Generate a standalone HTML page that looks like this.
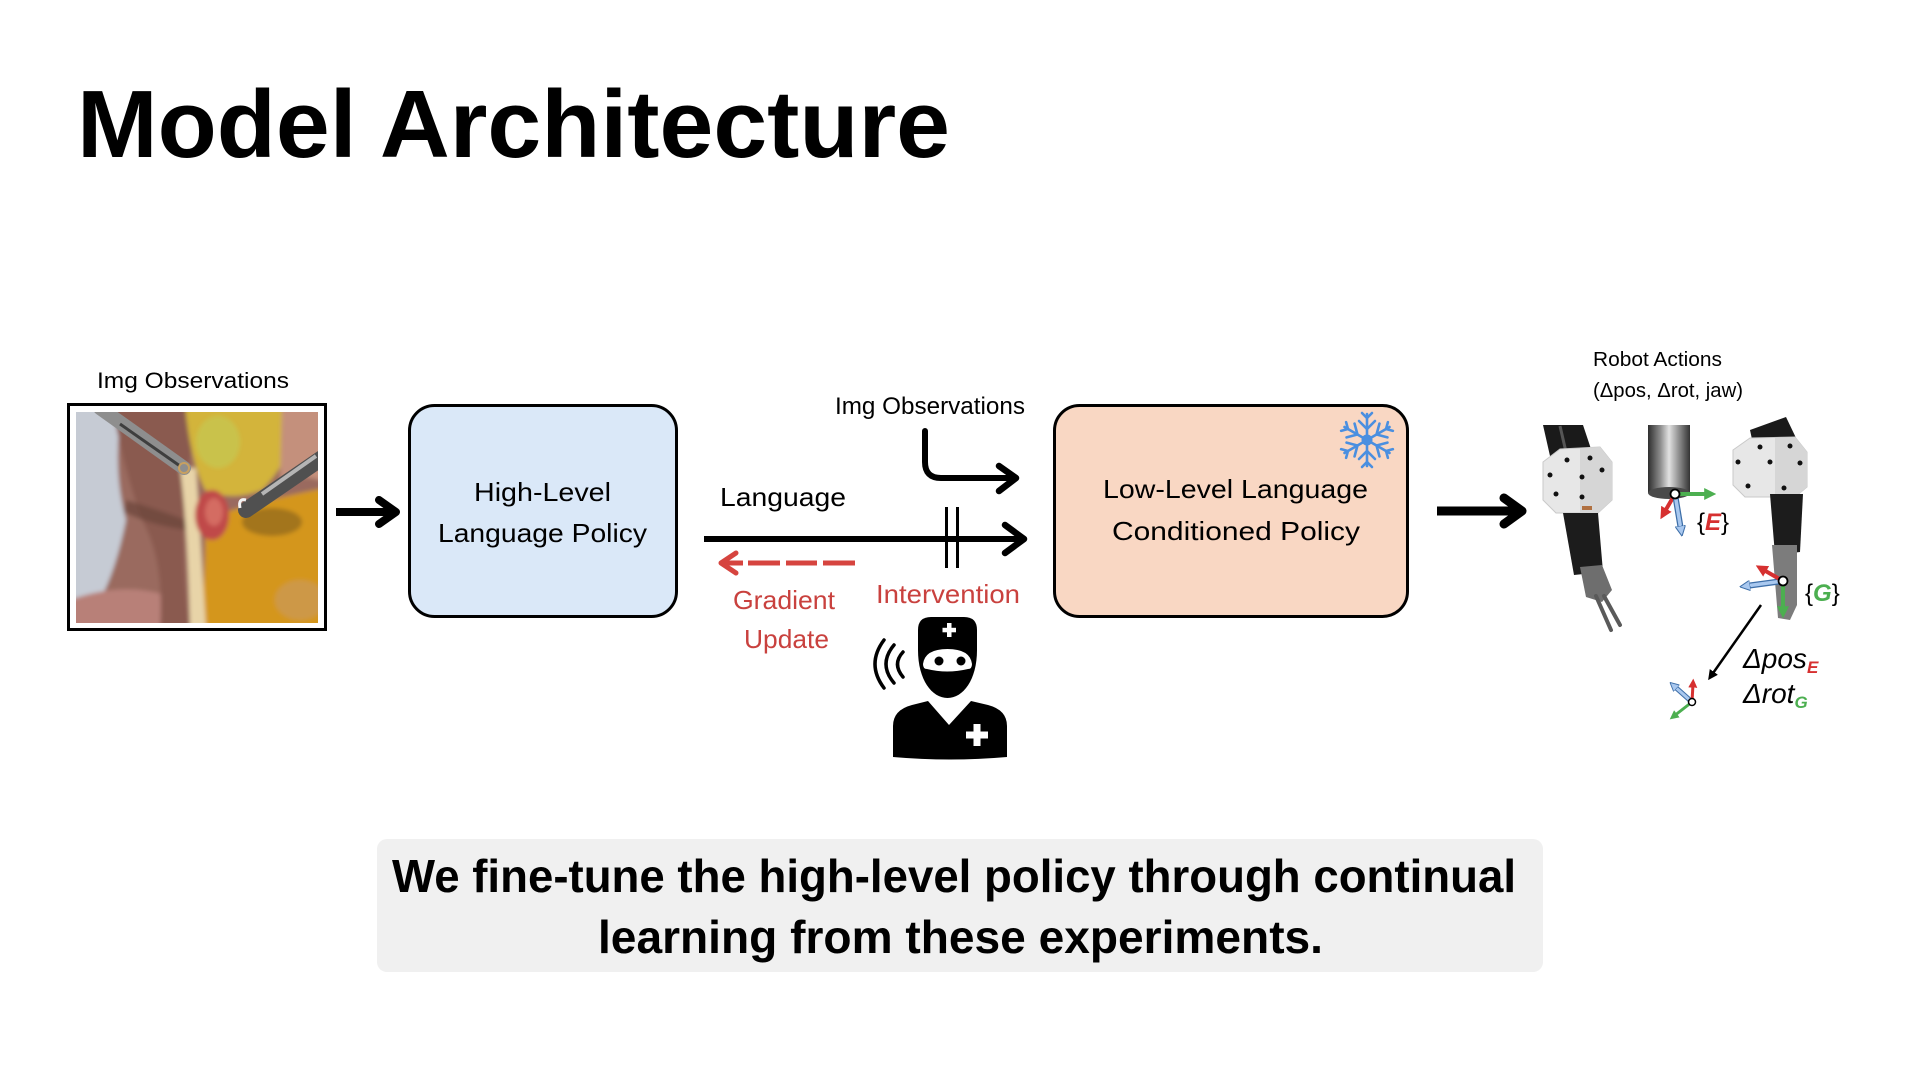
<!DOCTYPE html>
<html>
<head>
<meta charset="utf-8">
<style>
html,body{margin:0;padding:0;background:#fff;}
body{width:1920px;height:1080px;overflow:hidden;}
svg{display:block;}
text{font-family:"Liberation Sans",sans-serif;}
</style>
</head>
<body>
<svg width="1920" height="1080" viewBox="0 0 1920 1080" xmlns="http://www.w3.org/2000/svg">
<defs>
  <clipPath id="ph"><rect x="76" y="412" width="242" height="211"/></clipPath>
  <filter id="soft" x="-5%" y="-5%" width="110%" height="110%"><feGaussianBlur stdDeviation="2.2"/></filter>
  <linearGradient id="tube" x1="0" y1="0" x2="1" y2="0">
    <stop offset="0" stop-color="#2e2e2e"/>
    <stop offset="0.3" stop-color="#8f8f8f"/>
    <stop offset="0.5" stop-color="#e2e2e2"/>
    <stop offset="0.75" stop-color="#8a8a8a"/>
    <stop offset="1" stop-color="#333"/>
  </linearGradient>
  <marker id="mR" viewBox="0 0 10 10" refX="4" refY="5" markerWidth="3" markerHeight="3" orient="auto"><path d="M0,0 L10,5 L0,10 z" fill="#d63030"/></marker>
  <marker id="mG" viewBox="0 0 10 10" refX="4" refY="5" markerWidth="3" markerHeight="3" orient="auto"><path d="M0,0 L10,5 L0,10 z" fill="#4caf50"/></marker>
  <marker id="mB" viewBox="0 0 10 10" refX="4" refY="5" markerWidth="3" markerHeight="3" orient="auto"><path d="M0,0 L10,5 L0,10 z" fill="#a9c8ef" stroke="#3d6ea8" stroke-width="1"/></marker>
  <marker id="mK" viewBox="0 0 10 10" refX="5" refY="5" markerWidth="4" markerHeight="4" orient="auto"><path d="M0,0 L10,5 L0,10 z" fill="#000"/></marker>
</defs>

<!-- Title -->
<text x="77" y="157" font-size="96" font-weight="bold" textLength="873" lengthAdjust="spacingAndGlyphs">Model Architecture</text>

<!-- Left image observations -->
<text x="97" y="388" font-size="22" textLength="192" lengthAdjust="spacingAndGlyphs">Img Observations</text>
<rect x="68.5" y="404.5" width="257" height="225" fill="#fff" stroke="#000" stroke-width="3"/>
<g clip-path="url(#ph)">
 <g filter="url(#soft)">
  <rect x="70" y="405" width="255" height="225" fill="#9a6a5e"/>
  <path d="M70,405 L122,405 Q112,470 126,520 Q116,570 100,600 L70,615 Z" fill="#c6cbd4"/>
  <path d="M70,600 Q120,582 162,594 L176,630 L70,630 Z" fill="#b88078"/>
  <path d="M112,405 L200,405 L186,480 Q180,560 190,630 L160,630 Q165,560 142,520 Q124,470 112,405 Z" fill="#8a5a50"/>
  <path d="M126,500 Q160,510 186,520 L186,530 Q150,525 124,512 Z" fill="#6a443a" opacity="0.7"/>
  <path d="M185,405 L305,405 Q292,460 262,490 Q232,502 205,490 Q190,460 185,405 Z" fill="#d3b43a"/>
  <ellipse cx="218" cy="442" rx="22" ry="26" fill="#c9c24c"/>
  <path d="M282,405 L325,405 L325,482 Q300,472 280,482 Z" fill="#c4907c"/>
  <path d="M205,520 Q242,504 325,488 L325,630 L200,630 Q206,570 205,520 Z" fill="#d4961e"/>
  <ellipse cx="272" cy="522" rx="30" ry="14" fill="#7a5a1e" opacity="0.55"/>
  <ellipse cx="300" cy="600" rx="25" ry="20" fill="#c89a60" opacity="0.6"/>
  <path d="M180,468 Q188,530 190,630 L206,630 Q200,530 196,468 Z" fill="#e8d4a8"/>
  <ellipse cx="212" cy="515" rx="17" ry="25" fill="#c04a48"/>
  <ellipse cx="214" cy="512" rx="9" ry="14" fill="#d46c62"/>
 </g>
  <line x1="100" y1="408" x2="184" y2="468" stroke="#8e8e8e" stroke-width="14" stroke-linecap="round"/>
  <line x1="120" y1="424" x2="180" y2="466" stroke="#3e3e3e" stroke-width="3"/>
  <circle cx="184" cy="468" r="5" fill="none" stroke="#c8a060" stroke-width="2"/>
  <line x1="322" y1="458" x2="246" y2="510" stroke="#505050" stroke-width="16" stroke-linecap="round"/>
  <line x1="316" y1="456" x2="262" y2="494" stroke="#b5b5b5" stroke-width="4"/>
  <path d="M246,500 Q238,498 240,508" fill="none" stroke="#f2f2f2" stroke-width="3"/>
</g>

<!-- arrow 1 -->
<line x1="336" y1="512" x2="394" y2="512" stroke="#000" stroke-width="8"/>
<polyline points="379,500 396,512 379,524" fill="none" stroke="#000" stroke-width="8" stroke-linecap="round" stroke-linejoin="round"/>

<!-- High level box -->
<rect x="409.5" y="405.5" width="267" height="211" rx="25" fill="#dae8f8" stroke="#000" stroke-width="3"/>
<text x="474" y="501" font-size="26" textLength="137" lengthAdjust="spacingAndGlyphs">High-Level</text>
<text x="438" y="542" font-size="26" textLength="209" lengthAdjust="spacingAndGlyphs">Language Policy</text>

<!-- middle connectors -->
<text x="720" y="506" font-size="26" textLength="126" lengthAdjust="spacingAndGlyphs">Language</text>
<text x="835" y="414" font-size="24" textLength="190" lengthAdjust="spacingAndGlyphs">Img Observations</text>
<path d="M925,431 L925,462 Q925,478 941,478 L1014,478" fill="none" stroke="#000" stroke-width="6" stroke-linecap="round"/>
<polyline points="999,466 1016,478 999,491" fill="none" stroke="#000" stroke-width="6.5" stroke-linecap="round" stroke-linejoin="round"/>
<line x1="704" y1="539" x2="1022" y2="539" stroke="#000" stroke-width="6"/>
<polyline points="1005,525 1024,539 1005,553" fill="none" stroke="#000" stroke-width="6.5" stroke-linecap="round" stroke-linejoin="round"/>
<line x1="946.5" y1="507" x2="946.5" y2="568" stroke="#000" stroke-width="3"/>
<line x1="957.5" y1="507" x2="957.5" y2="568" stroke="#000" stroke-width="3"/>

<!-- red dashed -->
<polyline points="736,553 721,563 736,573" fill="none" stroke="#d6443f" stroke-width="5" stroke-linecap="round" stroke-linejoin="round"/>
<line x1="722" y1="563" x2="743" y2="563" stroke="#d6443f" stroke-width="5"/>
<line x1="748" y1="563" x2="780" y2="563" stroke="#d6443f" stroke-width="5"/>
<line x1="786" y1="563" x2="817" y2="563" stroke="#d6443f" stroke-width="5"/>
<line x1="823" y1="563" x2="855" y2="563" stroke="#d6443f" stroke-width="5"/>
<text x="733" y="609" font-size="26" fill="#c9413e" textLength="102" lengthAdjust="spacingAndGlyphs">Gradient</text>
<text x="744" y="648" font-size="26" fill="#c9413e" textLength="85" lengthAdjust="spacingAndGlyphs">Update</text>
<text x="876" y="603" font-size="26" fill="#c9413e" textLength="144" lengthAdjust="spacingAndGlyphs">Intervention</text>

<!-- doctor -->
<g>
  <path d="M884,640 Q866,664 884,688" fill="none" stroke="#000" stroke-width="3.5" stroke-linecap="round"/>
  <path d="M894,645 Q878,664 894,683" fill="none" stroke="#000" stroke-width="3.5" stroke-linecap="round"/>
  <path d="M903,652 Q892,664 903,677" fill="none" stroke="#000" stroke-width="3.5" stroke-linecap="round"/>
  <path d="M918,650 L918,630 Q918,617 931,617 L964,617 Q977,617 977,630 L977,650 C977,680 963,698 947.5,698 C932,698 918,680 918,650 Z" fill="#000"/>
  <path d="M923,664 Q925,649 947.5,649 Q970,649 972,664 Q972,669 968,669 Q947,674 927,669 Q923,669 923,664 Z" fill="#fff"/>
  <circle cx="939" cy="661" r="4.5" fill="#000"/>
  <circle cx="961" cy="661" r="4.5" fill="#000"/>
  <rect x="947" y="623" width="4.5" height="14" fill="#fff"/>
  <rect x="942.5" y="627.8" width="13.5" height="4.5" fill="#fff"/>
  <path d="M893,757 L893,726 Q893,710 912,705 L928,701 L949,725 L971,701 L988,705 Q1007,710 1007,726 L1007,757 Q950,762 893,757 Z" fill="#000"/>
  <rect x="973.5" y="724" width="7" height="22" fill="#fff"/>
  <rect x="966" y="731.5" width="22" height="7" fill="#fff"/>
</g>

<!-- Low level box -->
<rect x="1054.5" y="405.5" width="353" height="211" rx="25" fill="#f9d7c3" stroke="#000" stroke-width="3"/>
<text x="1103" y="498" font-size="26" textLength="265" lengthAdjust="spacingAndGlyphs">Low-Level Language</text>
<text x="1112" y="540" font-size="26" textLength="248" lengthAdjust="spacingAndGlyphs">Conditioned  Policy</text>
<!-- snowflake -->
<g stroke="#4a8fe0" stroke-width="2.6" stroke-linecap="round" fill="none">
  <g><line x1="1367" y1="440" x2="1367" y2="414"/><polyline points="1359,421 1367,429 1375,421"/><polyline points="1362,413 1367,418 1372,413"/></g>
  <g transform="rotate(60 1367 440)"><line x1="1367" y1="440" x2="1367" y2="414"/><polyline points="1359,421 1367,429 1375,421"/><polyline points="1362,413 1367,418 1372,413"/></g>
  <g transform="rotate(120 1367 440)"><line x1="1367" y1="440" x2="1367" y2="414"/><polyline points="1359,421 1367,429 1375,421"/><polyline points="1362,413 1367,418 1372,413"/></g>
  <g transform="rotate(180 1367 440)"><line x1="1367" y1="440" x2="1367" y2="414"/><polyline points="1359,421 1367,429 1375,421"/><polyline points="1362,413 1367,418 1372,413"/></g>
  <g transform="rotate(240 1367 440)"><line x1="1367" y1="440" x2="1367" y2="414"/><polyline points="1359,421 1367,429 1375,421"/><polyline points="1362,413 1367,418 1372,413"/></g>
  <g transform="rotate(300 1367 440)"><line x1="1367" y1="440" x2="1367" y2="414"/><polyline points="1359,421 1367,429 1375,421"/><polyline points="1362,413 1367,418 1372,413"/></g>
</g>
<circle cx="1367" cy="440" r="5.5" fill="#4a8fe0"/>

<!-- arrow to robot -->
<line x1="1437" y1="511" x2="1519" y2="511" stroke="#000" stroke-width="9"/>
<polyline points="1504,498 1522,511 1504,524" fill="none" stroke="#000" stroke-width="9" stroke-linecap="round" stroke-linejoin="round"/>

<!-- Robot actions -->
<text x="1593" y="366" font-size="20" textLength="129" lengthAdjust="spacingAndGlyphs">Robot Actions</text>
<text x="1593" y="397" font-size="20" textLength="150" lengthAdjust="spacingAndGlyphs">(Δpos, Δrot, jaw)</text>

<!-- left instrument -->
<polygon points="1543,425 1583,425 1592,452 1550,456" fill="#1a1a1a"/>
<line x1="1560" y1="426" x2="1566" y2="452" stroke="#555" stroke-width="3"/>
<polygon points="1543,462 1560,449 1600,447 1612,462 1612,500 1598,513 1556,513 1543,500" fill="#e7e7e7" stroke="#c9c9c9" stroke-width="1"/>
<polygon points="1580,448 1600,447 1612,462 1612,500 1598,513 1580,513" fill="#d6d6d6"/>
<g fill="#111"><circle cx="1567" cy="460" r="2.5"/><circle cx="1590" cy="458" r="2.5"/><circle cx="1550" cy="475" r="2.5"/><circle cx="1582" cy="477" r="2.5"/><circle cx="1602" cy="470" r="2.5"/><circle cx="1556" cy="494" r="2.5"/><circle cx="1582" cy="497" r="2.5"/></g>
<polygon points="1563,513 1598,513 1603,572 1574,575" fill="#1c1c1c"/>
<rect x="1582" y="506" width="10" height="4" fill="#b07040"/>
<polygon points="1580,567 1602,565 1612,590 1602,602 1586,597" fill="#6e6e6e"/>
<line x1="1596" y1="596" x2="1611" y2="630" stroke="#5a5a5a" stroke-width="4" stroke-linecap="round"/>
<line x1="1604" y1="596" x2="1620" y2="625" stroke="#5a5a5a" stroke-width="4" stroke-linecap="round"/>

<!-- middle instrument -->
<rect x="1648" y="425" width="42" height="68" fill="url(#tube)"/>
<ellipse cx="1669" cy="493" rx="21" ry="6" fill="#4a4a4a"/>

<!-- right instrument -->
<polygon points="1750,430 1786,417 1797,440 1753,444" fill="#1a1a1a"/>
<polygon points="1733,450 1750,438 1795,437 1807,452 1807,487 1795,497 1745,497 1733,485" fill="#e7e7e7" stroke="#c9c9c9" stroke-width="1"/>
<polygon points="1775,438 1795,437 1807,452 1807,487 1795,497 1775,497" fill="#d6d6d6"/>
<g fill="#111"><circle cx="1760" cy="447" r="2.5"/><circle cx="1790" cy="446" r="2.5"/><circle cx="1738" cy="462" r="2.5"/><circle cx="1770" cy="462" r="2.5"/><circle cx="1800" cy="463" r="2.5"/><circle cx="1748" cy="486" r="2.5"/><circle cx="1784" cy="488" r="2.5"/></g>
<polygon points="1770,494 1803,494 1800,552 1775,555" fill="#1c1c1c"/>
<polygon points="1772,545 1797,545 1797,605 1790,620 1778,618" fill="#7c7c7c"/>

<!-- frame E -->
<line x1="1675" y1="494" x2="1709" y2="494" stroke="#4caf50" stroke-width="4" marker-end="url(#mG)"/>
<line x1="1675" y1="494" x2="1664" y2="513" stroke="#d63030" stroke-width="4" marker-end="url(#mR)"/>
<line x1="1675" y1="494" x2="1681" y2="530" stroke="#3d6ea8" stroke-width="6"/>
<line x1="1675" y1="494" x2="1681" y2="530" stroke="#a9c8ef" stroke-width="3.5" marker-end="url(#mB)"/>
<circle cx="1675" cy="494" r="4.5" fill="#fff" stroke="#000" stroke-width="1.8"/>
<text x="1697" y="530" font-family="Liberation Serif,serif" font-size="24">{<tspan fill="#d63030" font-weight="bold" font-style="italic">E</tspan>}</text>

<!-- frame G -->
<line x1="1783" y1="581" x2="1746" y2="586" stroke="#3d6ea8" stroke-width="6"/>
<line x1="1783" y1="581" x2="1746" y2="586" stroke="#a9c8ef" stroke-width="3.5" marker-end="url(#mB)"/>
<line x1="1783" y1="581" x2="1762" y2="569" stroke="#d63030" stroke-width="4" marker-end="url(#mR)"/>
<line x1="1783" y1="581" x2="1783" y2="611" stroke="#4caf50" stroke-width="4" marker-end="url(#mG)"/>
<circle cx="1783" cy="581" r="4.5" fill="#fff" stroke="#000" stroke-width="1.8"/>
<text x="1805" y="601" font-family="Liberation Serif,serif" font-size="24">{<tspan fill="#4caf50" font-weight="bold" font-style="italic">G</tspan>}</text>

<!-- motion arrow -->
<line x1="1761" y1="605" x2="1711" y2="676" stroke="#000" stroke-width="2.5" marker-end="url(#mK)"/>

<!-- small frame -->
<line x1="1692" y1="702" x2="1674" y2="686" stroke="#3d6ea8" stroke-width="5"/>
<line x1="1692" y1="702" x2="1674" y2="686" stroke="#a9c8ef" stroke-width="3" marker-end="url(#mB)"/>
<line x1="1692" y1="702" x2="1693" y2="684" stroke="#d63030" stroke-width="3" marker-end="url(#mR)"/>
<line x1="1692" y1="702" x2="1674" y2="716" stroke="#4caf50" stroke-width="3" marker-end="url(#mG)"/>
<circle cx="1692" cy="702" r="3.5" fill="#fff" stroke="#000" stroke-width="1.5"/>

<text x="1743" y="668" font-family="Liberation Serif,serif" font-size="28" font-style="italic">Δpos<tspan fill="#d63030" font-weight="bold" font-size="17" dy="5">E</tspan></text>
<text x="1743" y="703" font-family="Liberation Serif,serif" font-size="28" font-style="italic">Δrot<tspan fill="#4caf50" font-weight="bold" font-size="17" dy="5">G</tspan></text>

<!-- caption -->
<rect x="377" y="839" width="1166" height="133" rx="10" fill="#f0f0f0"/>
<text x="392" y="892" font-size="46" font-weight="bold" textLength="1124" lengthAdjust="spacingAndGlyphs">We fine-tune the high-level policy through continual</text>
<text x="598" y="953" font-size="46" font-weight="bold" textLength="725" lengthAdjust="spacingAndGlyphs">learning from these experiments.</text>
</svg>
</body>
</html>
